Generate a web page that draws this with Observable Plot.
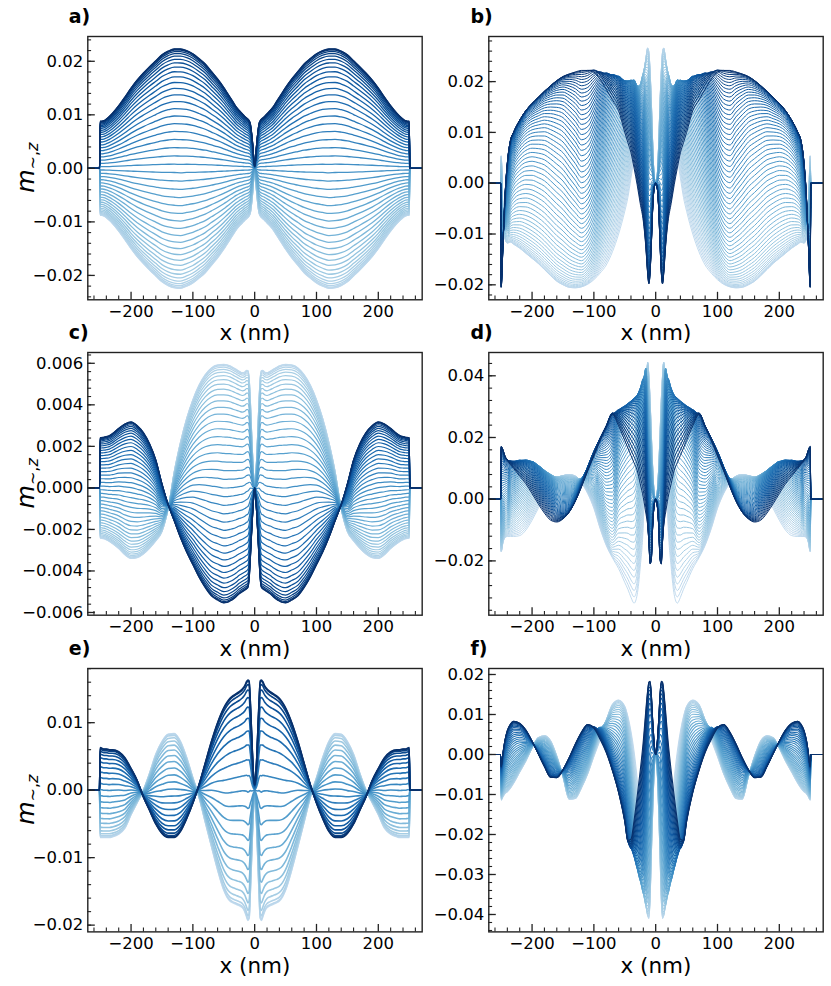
<!DOCTYPE html>
<html>
<head>
<meta charset="utf-8">
<script src="https://cdn.jsdelivr.net/npm/d3@7"></script>
<script src="https://cdn.jsdelivr.net/npm/@observablehq/plot@0.6"></script>
<style>
  body { margin: 0; background: #fff; }
  #fig { position: relative; width: 831px; height: 986px; font-family: "DejaVu Sans", sans-serif; }
  #fig svg { position: absolute; }
</style>
</head>
<body>
<div id="fig"></div>
<script>
// ---------------- data ----------------
// sample positions (nm) on the left half; the profiles in the reference are mirror-symmetric about x = 0
const xHalf = [-250,-247,-244,-240,-235,-230,-220,-210,-200,-190,-180,-170,-160,-150,-140,-130,-120,-110,-100,-90,-80,-70,-60,-50,-45,-40,-35,-30,-25,-20,-16,-13,-11,-9,-7,-5,-3,-1.5,0];
// m = 0 outside the element (flat segment)
const edgeX = [-275, -251];

// panel a : darkest (first) and lightest (last) snapshot
const aDark  = [0.0088,0.0088,0.0089,0.0092,0.0097,0.0103,0.0117,0.0133,0.0150,0.0165,0.0178,0.0190,0.0201,0.0212,0.0219,0.0223,0.0223,0.0220,0.0214,0.0205,0.0195,0.0181,0.0167,0.0151,0.0142,0.0133,0.0124,0.0115,0.0108,0.0102,0.0097,0.0094,0.0092,0.0089,0.0083,0.0066,0.0042,0.0018,0.0004];
const aLight = [-0.0088,-0.0088,-0.0089,-0.0092,-0.0097,-0.0103,-0.0117,-0.0133,-0.0150,-0.0165,-0.0178,-0.0190,-0.0201,-0.0212,-0.0219,-0.0223,-0.0224,-0.0220,-0.0214,-0.0205,-0.0195,-0.0181,-0.0167,-0.0151,-0.0142,-0.0133,-0.0124,-0.0115,-0.0108,-0.0102,-0.0097,-0.0094,-0.0092,-0.0089,-0.0083,-0.0066,-0.0042,-0.0018,-0.0004];

// panel b
const bDark  = [-0.0205,-0.0120,-0.0030,0.0040,0.0084,0.0100,0.0124,0.0143,0.0157,0.0169,0.0181,0.0192,0.0202,0.0210,0.0215,0.0219,0.0222,0.0222,0.0219,0.0205,0.0185,0.0164,0.0143,0.0100,0.0080,0.0060,0.0030,-0.0003,-0.0040,-0.0075,-0.0125,-0.0178,-0.0198,-0.0175,-0.0120,-0.0055,-0.0015,-0.0004,0];
const bLight = [0.0054,-0.0060,-0.0108,-0.0118,-0.0116,-0.0120,-0.0128,-0.0138,-0.0148,-0.0158,-0.0170,-0.0182,-0.0193,-0.0200,-0.0205,-0.0206,-0.0204,-0.0199,-0.0190,-0.0177,-0.0161,-0.0135,-0.0100,-0.0055,-0.0028,0.0010,0.0050,0.0092,0.0135,0.0190,0.0240,0.0266,0.0258,0.0220,0.0160,0.0085,0.0025,0.0006,0];
// bulge of the intermediate snapshots (sets the upper envelope between the dark plateau and the light peak)
const bShift = [0,0,0,0,0,0,0,0,0,0,0,0,0,0,0,0,0,0.0015,0.0040,0.0075,0.0110,0.0132,0.0145,0.0162,0.0167,0.0166,0.0163,0.0140,0.0118,0.0090,0.0040,0.0010,0,0,0,0,0,0,0];
// where the middle snapshot sits between dark (0) and light (1)
const bMidFrac = [0.5,0.5,0.5,0.45,0.38,0.34,0.32,0.32,0.33,0.35,0.37,0.40,0.43,0.46,0.50,0.54,0.58,0.60,0.60,0.58,0.55,0.52,0.5,0.5,0.5,0.5,0.5,0.5,0.5,0.5,0.5,0.5,0.5,0.5,0.5,0.5,0.5,0.5,0.5];

// panel c
const cDark  = [0.00242,0.00243,0.00244,0.00247,0.00252,0.00262,0.00287,0.00308,0.00318,0.00300,0.00266,0.00212,0.00135,0.00020,-0.00080,-0.00160,-0.00240,-0.00310,-0.00370,-0.00430,-0.00480,-0.00520,-0.00540,-0.00554,-0.00552,-0.00545,-0.00536,-0.00524,-0.00510,-0.00500,-0.00492,-0.00486,-0.00480,-0.00440,-0.00340,-0.00220,-0.00110,-0.00040,0];
const cLight = [-0.00242,-0.00243,-0.00245,-0.00250,-0.00258,-0.00268,-0.00292,-0.00322,-0.00340,-0.00336,-0.00318,-0.00290,-0.00255,-0.00210,-0.00100,0.00080,0.00220,0.00335,0.00425,0.00495,0.00545,0.00578,0.00592,0.00595,0.00593,0.00588,0.00580,0.00571,0.00562,0.00555,0.00558,0.00566,0.00565,0.00530,0.00420,0.00270,0.00130,0.00050,0];

// panel d
const dDark  = [0.0171,0.0160,0.0140,0.0126,0.0112,0.0100,0.0075,0.0050,0.0018,-0.0015,-0.0045,-0.0068,-0.0074,-0.0064,-0.0042,-0.0006,0.0040,0.0092,0.0140,0.0190,0.0234,0.0274,0.0238,0.0190,0.0166,0.0142,0.0118,0.0094,0.0050,0.0005,-0.0045,-0.0085,-0.0140,-0.0210,-0.0195,-0.0095,-0.0030,-0.0008,0];
const dLight = [-0.0170,-0.0140,-0.0125,-0.0121,-0.0121,-0.0121,-0.0118,-0.0100,-0.0068,-0.0030,0.0005,0.0035,0.0060,0.0075,0.0080,0.0075,0.0052,0.0018,-0.0030,-0.0095,-0.0150,-0.0190,-0.0225,-0.0270,-0.0292,-0.0318,-0.0337,-0.0310,-0.0220,-0.0080,0.0180,0.0441,0.0400,0.0320,0.0210,0.0110,0.0035,0.0008,0];
const dShift = [0,0,0.0010,0.0022,0.0054,0.0075,0.0112,0.0132,0.0141,0.0132,0.0111,0.0082,0.0042,0.0015,0,0,0.0021,0.0034,0.0053,0.0048,0.0039,0.0050,0.0164,0.0254,0.0295,0.0335,0.0373,0.0397,0.0424,0.0427,0.0339,0.0040,0,0,0,0,0,0,0];

// panel e
const eDark  = [0.0063,0.0062,0.0061,0.0061,0.0060,0.0060,0.0057,0.0048,0.0032,0.0014,-0.0010,-0.0030,-0.0050,-0.0064,-0.0070,-0.0070,-0.0061,-0.0042,-0.0019,0.0008,0.0040,0.0072,0.0100,0.0122,0.0130,0.0136,0.0140,0.0143,0.0146,0.0150,0.0155,0.0161,0.0163,0.0162,0.0130,0.0085,0.0040,0.0018,0.0008];
const eLight = [-0.0070,-0.0070,-0.0070,-0.0070,-0.0070,-0.0069,-0.0065,-0.0056,-0.0036,-0.0018,0.0000,0.0025,0.0053,0.0072,0.0083,0.0084,0.0072,0.0048,0.0018,-0.0010,-0.0047,-0.0083,-0.0118,-0.0148,-0.0158,-0.0164,-0.0167,-0.0169,-0.0171,-0.0174,-0.0180,-0.0188,-0.0193,-0.0190,-0.0150,-0.0100,-0.0048,-0.0022,-0.0010];

// panel f
const fDark  = [-0.0030,0.0005,0.0035,0.0060,0.0076,0.0083,0.0078,0.0061,0.0033,0.0002,-0.0030,-0.0057,-0.0058,-0.0038,-0.0008,0.0026,0.0056,0.0075,0.0066,0.0038,0.0005,-0.0040,-0.0095,-0.0168,-0.0215,-0.0212,-0.0165,-0.0105,-0.0040,0.0035,0.0110,0.0160,0.0181,0.0183,0.0150,0.0090,0.0040,0.0012,0];
const fLight = [-0.0114,-0.0105,-0.0098,-0.0093,-0.0084,-0.0072,-0.0044,-0.0016,0.0016,0.0042,0.0047,0.0034,-0.0004,-0.0055,-0.0112,-0.0110,-0.0083,-0.0048,-0.0005,0.0036,0.0083,0.0125,0.0136,0.0120,0.0095,0.0058,0.0008,-0.0060,-0.0149,-0.0260,-0.0350,-0.0400,-0.0410,-0.0360,-0.0250,-0.0150,-0.0060,-0.0016,0];
const fShift = [0,0,0,0,0,0,0,0,0,0,0,0,0,0,0,0,0,0,0.0015,0.0031,0.0015,0,0,0,-0.0030,-0.0082,-0.0154,-0.0201,-0.0214,-0.0184,-0.0117,-0.0040,0,0,0,0,0,0,0];

// number of snapshots per panel
const curveCounts = {a: 46, b: 60, c: 44, d: 60, e: 24, f: 40};

// axis ticks
const xMajor = [-200, -100, 0, 100, 200];
const yMajorA = [-0.02, -0.01, 0, 0.01, 0.02];
const yMajorB = [-0.02, -0.01, 0, 0.01, 0.02];
const yMajorC = [-0.006, -0.004, -0.002, 0, 0.002, 0.004, 0.006];
const yMajorD = [-0.02, 0, 0.02, 0.04];
const yMajorE = [-0.02, -0.01, 0, 0.01];
const yMajorF = [-0.04, -0.03, -0.02, -0.01, 0, 0.01, 0.02];

// ---------------- build ----------------
const xDomain = [-270, 271];
const sym = arr => [...arr, ...arr.slice(0, -1).reverse()];
const xFull = [...xHalf, ...xHalf.slice(0, -1).reverse().map(x => -x)];

function family(dark, light, shift, midFrac, n) {
  const D = sym(dark), L = sym(light);
  const Q = shift ? sym(shift) : D.map(() => 0);
  const R = midFrac ? sym(midFrac) : D.map(() => 0.5);
  const G = R.map(r => Math.log(r) / Math.log(0.5));
  const rows = [];
  for (let k = n - 1; k >= 0; k--) {
    const s = k / (n - 1);
    const u = (1 - Math.cos(Math.PI * s)) / 2;
    const c = d3.interpolateBlues(1 - 0.75 * s);
    edgeX.forEach(x => rows.push({k, x, v: 0, c}));
    xFull.forEach((x, i) => {
      const C = (D[i] + L[i]) / 2, P = (D[i] - L[i]) / 2;
      const w = Math.pow(u, G[i]);
      const v = C + P * (1 - 2 * w) + 2 * Q[i] * Math.sqrt(Math.max(0, w * (1 - w)));
      rows.push({k, x, v, c});
    });
    edgeX.slice().reverse().forEach(x => rows.push({k, x: -x, v: 0, c}));
  }
  return rows;
}

const fig = document.getElementById("fig");
const xMinor = d3.range(-260, 261, 20).filter(v => v % 100 !== 0);
const fmt2 = d => d3.format(".2f")(d);
const fmt3 = d => d3.format(".3f")(d);

function panel(cfg) {
  const fw = cfg.width - cfg.ml - cfg.mr;
  const fh = cfg.height - 36 - 46;
  const yMinor = d3.range(Math.ceil(cfg.ydom[0] / cfg.minorStep - 1e-9), Math.floor(cfg.ydom[1] / cfg.minorStep + 1e-9) + 1)
    .map(i => i * cfg.minorStep);
  const svg = Plot.plot({
    width: cfg.width, height: cfg.height,
    marginLeft: cfg.ml, marginRight: cfg.mr, marginTop: 36, marginBottom: 46,
    x: {domain: xDomain, axis: null},
    y: {domain: cfg.ydom, axis: null},
    color: {type: "identity"},
    style: {background: "transparent", overflow: "visible", fontFamily: "DejaVu Sans", fontSize: "16.5px", color: "#000"},
    marks: [
      Plot.line(cfg.rows, {x: "x", y: "v", z: "k", stroke: "c", strokeWidth: cfg.sw, curve: "monotone-x", clip: true}),
      Plot.tickY(yMinor, {y: d => d, stroke: "#222", strokeWidth: 1.1, insetRight: fw - 3.8}),
      Plot.tickY(cfg.yMajor, {y: d => d, stroke: "#222", strokeWidth: 1.3, insetRight: fw - 7.5}),
      Plot.tickX(xMinor, {x: d => d, stroke: "#222", strokeWidth: 1.1, insetTop: fh - 3.8}),
      Plot.tickX(xMajor, {x: d => d, stroke: "#222", strokeWidth: 1.3, insetTop: fh - 7.5}),
      Plot.axisY(cfg.yMajor, {anchor: "left", tickSize: 0, tickPadding: 4.6, tickFormat: cfg.fmt, fontSize: 16.5, label: null}),
      Plot.axisX(xMajor, {anchor: "bottom", tickSize: 0, tickPadding: 5, tickFormat: d3.format("d"), fontSize: 16.5, label: null}),
      Plot.frame({stroke: "#222", strokeWidth: 1.4}),
      Plot.text([cfg.letter], {text: d => d, frameAnchor: "top-left", textAnchor: "start", lineAnchor: "bottom", dx: cfg.letterDx, dy: -13, fontWeight: "bold", fontSize: 19}),
      Plot.text(["x (nm)"], {text: d => d, frameAnchor: "bottom", lineAnchor: "bottom", dy: 40.7, fontSize: 21.5})
    ]
  });
  svg.style.left = cfg.left + "px";
  svg.style.top = cfg.top + "px";
  if (cfg.ylabel) {
    const t = d3.select(svg).append("text")
      .attr("transform", `translate(34.3, ${36 + fh / 2}) rotate(-90)`)
      .attr("text-anchor", "middle")
      .attr("font-family", "DejaVu Sans")
      .attr("fill", "#000");
    t.append("tspan").attr("font-style", "italic").attr("font-size", 24).text("m");
    t.append("tspan").attr("font-size", 16).attr("dy", 4).text("∼,");
    t.append("tspan").attr("font-style", "italic").attr("font-size", 16).text("z");
  }
  fig.appendChild(svg);
}

const Lc = {left: 0, width: 425.7, ml: 87.3, mr: 4, letterDx: -19, ylabel: true};
const Rc = {left: 426, width: 405, ml: 62.3, mr: 8.3, letterDx: -18.3, ylabel: false};
const rowsGeom = [{top: 0, height: 345.3}, {top: 316.3, height: 344.7}, {top: 632.3, height: 345.4}];

panel({...Lc, ...rowsGeom[0], letter: "a)", ydom: [-0.02455, 0.02463], yMajor: yMajorA, minorStep: 0.002, fmt: fmt2, sw: 1.3,
  rows: family(aDark, aLight, null, null, curveCounts.a)});
panel({...Rc, ...rowsGeom[0], letter: "b)", ydom: [-0.02295, 0.02888], yMajor: yMajorB, minorStep: 0.002, fmt: fmt2, sw: 1.0,
  rows: family(bDark, bLight, bShift, bMidFrac, curveCounts.b)});
panel({...Lc, ...rowsGeom[1], letter: "c)", ydom: [-0.00613, 0.00652], yMajor: yMajorC, minorStep: 0.0004, fmt: fmt3, sw: 1.2,
  rows: family(cDark, cLight, null, null, curveCounts.c)});
panel({...Rc, ...rowsGeom[1], letter: "d)", ydom: [-0.0376, 0.04755], yMajor: yMajorD, minorStep: 0.004, fmt: fmt2, sw: 1.0,
  rows: family(dDark, dLight, dShift, null, curveCounts.d)});
panel({...Lc, ...rowsGeom[2], letter: "e)", ydom: [-0.0210, 0.01803], yMajor: yMajorE, minorStep: 0.002, fmt: fmt2, sw: 1.6,
  rows: family(eDark, eLight, null, null, curveCounts.e)});
panel({...Rc, ...rowsGeom[2], letter: "f)", ydom: [-0.04435, 0.0215], yMajor: yMajorF, minorStep: 0.002, fmt: fmt2, sw: 1.1,
  rows: family(fDark, fLight, fShift, null, curveCounts.f)});
</script>
</body>
</html>
